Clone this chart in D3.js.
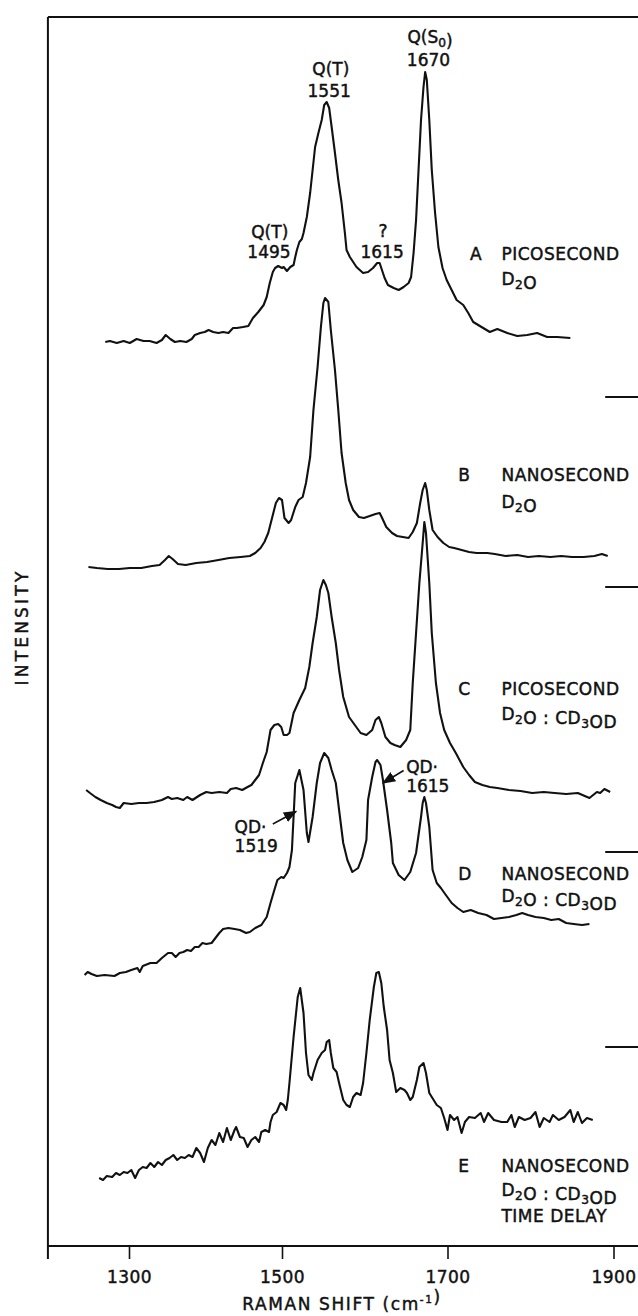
<!DOCTYPE html>
<html><head><meta charset="utf-8">
<script src="https://cdn.jsdelivr.net/npm/d3@7"></script>
<style>
html,body{margin:0;padding:0;background:#fff;}
svg{display:block;}
text{font-family:"DejaVu Sans",sans-serif;fill:#111;stroke:#111;stroke-width:0.45px;}
</style></head><body>
<svg id="chart" width="638" height="1316"></svg>
<script>
// ---------- data (Raman shift cm-1, intensity arb. units, stacked as in figure) ----------
const specA = [[1269,904],[1275,905],[1284,903],[1293,905],[1301,903],[1310,907],[1319,905],[1327,905],[1336,903],[1343,906],[1348,911],[1354,907],[1360,904],[1367,905],[1375,904],[1382,907],[1386,911],[1393,913],[1399,914],[1404,916],[1410,914],[1417,913],[1423,914],[1430,913],[1436,918],[1441,918],[1449,919],[1456,920],[1462,928],[1469,934],[1476,941],[1480,949],[1484,963],[1488,974],[1491,978],[1495,980],[1500,978],[1502,979],[1506,975],[1510,979],[1514,981],[1516,989],[1518,996],[1521,1004],[1524,1007],[1526,1013],[1530,1029],[1534,1053],[1537,1076],[1540,1099],[1544,1113],[1548,1126],[1551,1141],[1554,1144],[1557,1138],[1560,1119],[1564,1093],[1568,1066],[1572,1043],[1576,1013],[1578,996],[1582,989],[1586,984],[1590,979],[1594,976],[1598,973],[1604,974],[1610,978],[1615,983],[1618,983],[1620,978],[1624,968],[1628,961],[1635,958],[1641,956],[1647,959],[1653,963],[1656,969],[1659,993],[1662,1026],[1665,1076],[1668,1126],[1671,1159],[1673,1174],[1675,1166],[1678,1126],[1681,1076],[1685,1033],[1689,999],[1694,978],[1699,966],[1705,956],[1711,946],[1719,941],[1725,933],[1731,924],[1743,918],[1751,914],[1760,917],[1772,913],[1784,910],[1796,911],[1808,913],[1820,909],[1832,909],[1848,908]];

const specB = [[1247,679],[1258,678],[1272,677],[1287,677],[1301,678],[1316,678],[1330,680],[1340,681],[1347,686],[1352,690],[1357,687],[1364,682],[1374,681],[1388,683],[1402,684],[1417,686],[1431,688],[1446,689],[1458,690],[1465,693],[1472,698],[1477,704],[1482,713],[1487,728],[1492,743],[1496,748],[1500,746],[1503,728],[1508,723],[1511,726],[1516,739],[1520,746],[1525,749],[1529,763],[1534,789],[1538,836],[1543,879],[1547,919],[1550,943],[1552,948],[1556,944],[1559,916],[1564,876],[1568,836],[1572,793],[1577,763],[1581,746],[1586,736],[1593,729],[1599,728],[1606,730],[1613,732],[1618,733],[1621,728],[1626,719],[1633,713],[1639,710],[1646,709],[1653,708],[1658,714],[1663,723],[1667,743],[1670,756],[1673,763],[1675,756],[1678,736],[1682,716],[1688,709],[1695,703],[1702,699],[1708,698],[1717,696],[1726,694],[1735,693],[1748,693],[1757,692],[1770,690],[1784,691],[1797,689],[1810,690],[1824,689],[1837,690],[1850,689],[1864,689],[1877,690],[1886,692],[1893,690]];

const specC = [[1244,456],[1249,453],[1256,449],[1263,446],[1271,443],[1278,441],[1283,439],[1288,438],[1293,443],[1303,442],[1313,443],[1323,443],[1333,444],[1343,446],[1351,449],[1356,447],[1363,448],[1371,446],[1376,449],[1383,446],[1393,451],[1401,454],[1408,453],[1418,454],[1428,453],[1433,457],[1440,458],[1448,456],[1455,459],[1460,461],[1465,466],[1470,471],[1475,483],[1480,494],[1485,516],[1490,521],[1495,522],[1499,519],[1502,511],[1506,511],[1509,513],[1514,533],[1521,546],[1528,558],[1533,579],[1537,603],[1542,629],[1546,656],[1550,666],[1553,661],[1556,653],[1560,629],[1565,603],[1569,576],[1574,549],[1581,529],[1588,521],[1595,513],[1602,511],[1609,516],[1613,526],[1617,529],[1620,523],[1625,509],[1631,503],[1636,501],[1643,499],[1650,506],[1655,516],[1658,563],[1662,613],[1666,663],[1670,703],[1672,724],[1674,713],[1678,663],[1681,613],[1686,563],[1691,533],[1696,516],[1703,503],[1710,493],[1719,479],[1726,471],[1733,464],[1742,461],[1751,459],[1760,458],[1774,456],[1788,455],[1802,453],[1816,454],[1829,453],[1843,452],[1857,453],[1871,448],[1880,454],[1884,453],[1889,457],[1896,454]];

const specD = [[1242,271],[1246,274],[1251,272],[1258,270],[1268,271],[1281,270],[1288,273],[1296,274],[1303,276],[1311,278],[1314,274],[1318,280],[1328,283],[1336,283],[1343,288],[1351,293],[1356,293],[1361,289],[1366,293],[1371,294],[1376,296],[1381,295],[1386,299],[1391,299],[1396,303],[1401,302],[1408,303],[1413,308],[1418,313],[1423,317],[1430,318],[1438,317],[1445,316],[1453,313],[1458,314],[1465,318],[1473,321],[1480,329],[1485,343],[1490,356],[1494,366],[1499,369],[1502,368],[1506,373],[1509,379],[1512,396],[1516,463],[1521,476],[1526,456],[1530,413],[1532,404],[1537,429],[1542,463],[1546,483],[1551,493],[1556,488],[1560,476],[1565,463],[1569,436],[1574,403],[1579,386],[1585,374],[1592,378],[1597,389],[1602,406],[1604,446],[1609,469],[1613,484],[1615,486],[1619,481],[1622,466],[1627,436],[1632,403],[1634,383],[1641,371],[1648,366],[1655,374],[1662,393],[1668,429],[1670,443],[1672,449],[1674,443],[1678,419],[1682,376],[1687,363],[1692,358],[1698,351],[1705,343],[1712,338],[1719,334],[1728,336],[1737,333],[1747,331],[1756,327],[1765,328],[1774,329],[1783,331],[1790,333],[1797,331],[1806,329],[1816,328],[1825,326],[1834,327],[1843,323],[1852,322],[1862,321],[1871,322]];

const specE = [[1261,68],[1266,66],[1271,70],[1278,69],[1283,73],[1288,71],[1293,74],[1298,73],[1303,76],[1308,68],[1313,76],[1318,79],[1323,78],[1328,83],[1333,79],[1338,84],[1343,81],[1348,86],[1353,88],[1358,91],[1363,86],[1368,89],[1373,88],[1378,91],[1383,89],[1388,98],[1393,93],[1398,84],[1403,98],[1408,106],[1413,101],[1418,113],[1423,104],[1428,118],[1433,106],[1438,116],[1440,119],[1445,109],[1450,108],[1455,99],[1460,106],[1465,109],[1470,104],[1473,114],[1478,116],[1483,114],[1485,124],[1488,131],[1493,134],[1498,143],[1502,141],[1505,136],[1507,146],[1509,163],[1514,209],[1519,249],[1522,258],[1526,233],[1529,193],[1532,171],[1536,166],[1538,173],[1543,186],[1548,193],[1552,196],[1554,204],[1557,206],[1559,193],[1562,178],[1566,174],[1569,163],[1574,146],[1578,141],[1582,139],[1586,149],[1590,153],[1595,151],[1598,163],[1602,193],[1606,226],[1611,259],[1614,273],[1617,274],[1620,263],[1623,239],[1627,216],[1630,186],[1634,173],[1638,154],[1643,158],[1648,156],[1651,153],[1655,146],[1658,149],[1663,166],[1666,179],[1671,183],[1674,173],[1678,153],[1681,149],[1687,141],[1692,138],[1696,128],[1700,116],[1703,131],[1708,126],[1712,129],[1717,113],[1721,124],[1726,129],[1733,128],[1740,133],[1744,124],[1749,133],[1756,126],[1765,124],[1772,124],[1777,131],[1781,119],[1786,129],[1793,126],[1800,128],[1806,134],[1811,119],[1816,128],[1823,124],[1827,131],[1834,126],[1841,129],[1848,136],[1852,124],[1857,134],[1862,123],[1868,128],[1875,126]];

const xTicks = [1300, 1500, 1700, 1900];
const xTitle = "RAMAN SHIFT (cm^-1)";
const yTitle = "INTENSITY";

// spectrum captions: letter, caption lines, baseline intensity of each line
const captionLetters = ["A", "B", "C", "D", "E"];
const captionLines = [
  ["PICOSECOND", "D_2O"],
  ["NANOSECOND", "D_2O"],
  ["PICOSECOND", "D_2O : CD_3OD"],
  ["NANOSECOND", "D_2O : CD_3OD"],
  ["NANOSECOND", "D_2O : CD_3OD", "TIME DELAY"]
];
const captionLevels = [[986, 961], [765, 738], [551, 526], [366, 344], [74, 50, 24]];

// peak annotations: text lines, anchor shift, baseline intensity per line
const peakNotes = [
  {lines: ["Q(S_0)", "1670"], shift: [1679, 1677], level: [1203, 1180], anchor: "middle"},
  {lines: ["Q(T)", "1551"], shift: [1559, 1557], level: [1171, 1149], anchor: "middle"},
  {lines: ["Q(T)", "1495"], shift: [1484, 1483], level: [1008, 988], anchor: "middle"},
  {lines: ["?", "1615"], shift: [1622, 1621], level: [1009, 988], anchor: "middle"},
  {lines: ["QD·", "1519"], shift: [1438, 1438], level: [413, 394], anchor: "start"},
  {lines: ["QD·", "1615"], shift: [1650, 1650], level: [473, 454], anchor: "start"}
];
// arrows [fromShift, fromInt, toShift, toInt]
const arrows = [[1488, 422, 1517, 434.5], [1647, 475.5, 1622, 463]];
// offset marks on right edge (intensity)
const offsetMarks = [849, 659, 394, 199];

// ---------- drawing ----------
const W = 638, H = 1316;
const svg = d3.select("#chart");
const x = d3.scaleLinear().domain([1300, 1500, 1700, 1900]).range([129, 282, 447.5, 613.5]);
const y = d3.scaleLinear().domain([0, 1229]).range([1246, 17]);
const x0 = x(1194), yBase = y(0), yTop = y(1229);

svg.append("defs").append("marker")
  .attr("id", "ah").attr("viewBox", "0 0 10 10").attr("refX", 9).attr("refY", 5)
  .attr("markerWidth", 9).attr("markerHeight", 9).attr("orient", "auto")
  .append("path").attr("d", "M0,1 L10,5 L0,9 Z").attr("fill", "#111");

// frame
svg.append("path")
  .attr("d", `M${x0},${yTop}H${W}M${x0},${yTop}V${yBase}M${x0},${yBase}H${W}M${x0},${yBase}V${yBase + 13}`)
  .attr("fill", "none").attr("stroke", "#111").attr("stroke-width", 2);

// x axis
const ax = svg.append("g").attr("transform", `translate(0,${yBase})`)
  .call(d3.axisBottom(x).tickValues(xTicks).tickSize(13).tickSizeOuter(0).tickFormat(d3.format("d")));
ax.select(".domain").remove();
ax.selectAll(".tick line").attr("stroke", "#111").attr("stroke-width", 1.6);
ax.selectAll(".tick text").attr("y", 25).attr("font-size", 17)
  .attr("font-family", "DejaVu Sans").attr("fill", "#111").attr("letter-spacing", 0.5);

function rich(t, str, size) {
  const parts = str.split(/(_\d|\^-?\d+)/).filter(s => s.length);
  parts.forEach(p => {
    if (p[0] === "_") {
      t.append("tspan").attr("font-size", size * 0.72).attr("dy", 4).text(p.slice(1));
      t.append("tspan").attr("dy", -4).text("");
    } else if (p[0] === "^") {
      t.append("tspan").attr("font-size", size * 0.62).attr("dy", -7).text(p.slice(1));
      t.append("tspan").attr("dy", 7).text("");
    } else {
      t.append("tspan").text(p);
    }
  });
  return t;
}

// axis titles
rich(svg.append("text").attr("x", 342).attr("y", 1310).attr("text-anchor", "middle")
  .attr("font-size", 17).attr("letter-spacing", 1.6), xTitle, 17);
svg.append("text").attr("transform", "translate(28,627) rotate(-90)").attr("text-anchor", "middle")
  .attr("font-size", 17).attr("letter-spacing", 3.2).text(yTitle);

// offset marks
svg.selectAll(".om").data(offsetMarks).join("line")
  .attr("x1", x(1890)).attr("x2", W).attr("y1", d => y(d)).attr("y2", d => y(d))
  .attr("stroke", "#111").attr("stroke-width", 1.8);

// spectra
const line = d3.line().x(d => x(d[0])).y(d => y(d[1]));
svg.selectAll(".spec").data([specA, specB, specC, specD, specE]).join("path")
  .attr("d", line).attr("fill", "none").attr("stroke", "#111")
  .attr("stroke-width", 2.1).attr("stroke-linejoin", "round");

// captions
captionLetters.forEach((L, i) => {
  svg.append("text").attr("x", x(i === 0 ? 1727 : 1713)).attr("y", y(captionLevels[i][0]))
    .attr("font-size", 17).text(L);
  captionLines[i].forEach((s, j) => {
    rich(svg.append("text").attr("x", x(1765)).attr("y", y(captionLevels[i][j]))
      .attr("font-size", 17).attr("letter-spacing", 0.5), s, 17);
  });
});

// peak notes
peakNotes.forEach(n => {
  n.lines.forEach((s, j) => {
    rich(svg.append("text").attr("x", x(n.shift[j])).attr("y", y(n.level[j]))
      .attr("text-anchor", n.anchor).attr("font-size", 17), s, 17);
  });
});

// arrows
svg.selectAll(".arr").data(arrows).join("line")
  .attr("x1", d => x(d[0])).attr("y1", d => y(d[1])).attr("x2", d => x(d[2])).attr("y2", d => y(d[3]))
  .attr("stroke", "#111").attr("stroke-width", 1.5).attr("marker-end", "url(#ah)");
</script>
</body></html>
